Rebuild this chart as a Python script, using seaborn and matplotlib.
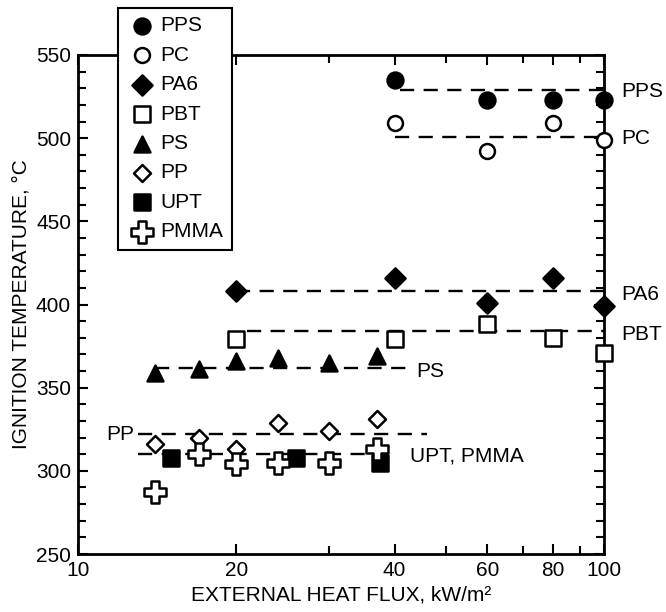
import numpy as np
import pandas as pd
import matplotlib
matplotlib.use('Agg')
import matplotlib.pyplot as plt
import matplotlib.ticker as mticker
import seaborn as sns

# data
flux_pps = [40, 60, 80, 100]
temp_pps = [535, 523, 523, 523]
flux_pc = [40, 60, 80, 100]
temp_pc = [509, 492, 509, 499]
flux_pa6 = [20, 40, 60, 80, 100]
temp_pa6 = [408, 416, 401, 416, 399]
flux_pbt = [20, 40, 60, 80, 100]
temp_pbt = [379, 379, 388, 380, 371]
flux_ps = [14, 17, 20, 24, 30, 37]
temp_ps = [359, 361, 366, 368, 365, 369]
flux_pp = [14, 17, 20, 24, 30, 37]
temp_pp = [316, 320, 313, 329, 324, 331]
flux_upt = [15, 26, 37.5]
temp_upt = [308, 308, 305]
flux_pmma = [14, 17, 20, 24, 30, 37]
temp_pmma = [287, 310, 304, 305, 305, 313]

# average ignition temperature lines (level, start flux, end flux)
avg_names = ['PPS', 'PC', 'PA6', 'PBT', 'PS', 'PP', 'UPT, PMMA']
avg_temp = [529, 501, 408, 384, 362, 322, 310]
avg_start = [41, 40, 20, 21, 14, 13, 13]
avg_end = [100, 100, 100, 100, 42, 46, 40]

right_labels = ['PPS', 'PC', 'PA6', 'PBT']
right_label_y = [528, 500, 406, 382]
inner_labels = ['PS', 'PP', 'UPT, PMMA']
inner_label_x = [44, 12.8, 42.8]
inner_label_y = [360, 322, 309]

sns.set_style('ticks')
plt.rcParams['font.family'] = ['Liberation Sans', 'DejaVu Sans']
plt.rcParams['font.size'] = 15
plt.rcParams['text.color'] = 'black'
plt.rcParams['axes.labelcolor'] = 'black'
plt.rcParams['xtick.color'] = 'black'
plt.rcParams['ytick.color'] = 'black'

fig = plt.figure(figsize=(6.66, 6.12), dpi=100)
ax = fig.add_axes([78/666, 1-554/612, 526/666, 499/612])

# dashed average lines
for t, x0, x1 in zip(avg_temp, avg_start, avg_end):
    seg = pd.DataFrame({'x': [x0, x1], 'y': [t, t]})
    sns.lineplot(data=seg, x='x', y='y', ax=ax, color='black', lw=1.7,
                 zorder=2, estimator=None)
for line in ax.lines:
    line.set_dashes([6, 4])

series = [
    ('PPS', flux_pps, temp_pps, 'o', 'black', 130),
    ('PC', flux_pc, temp_pc, 'o', 'white', 115),
    ('PA6', flux_pa6, temp_pa6, 'D', 'black', 105),
    ('PBT', flux_pbt, temp_pbt, 's', 'white', 130),
    ('PS', flux_ps, temp_ps, '^', 'black', 130),
    ('PP', flux_pp, temp_pp, 'D', 'white', 75),
    ('UPT', flux_upt, temp_upt, 's', 'black', 130),
    ('PMMA', flux_pmma, temp_pmma, 'P', 'white', 240),
]
for name, fx, ty, mk, fc, size in series:
    df = pd.DataFrame({'flux': fx, 'temp': ty})
    sns.scatterplot(data=df, x='flux', y='temp', ax=ax, marker=mk, s=size,
                    color=fc, edgecolor='black', linewidth=1.8, label=name,
                    zorder=4, clip_on=False)

ax.set_xscale('log')
ax.set_xlim(10, 100)
ax.set_ylim(250, 550)
ax.xaxis.set_major_locator(mticker.FixedLocator([10, 20, 40, 60, 80, 100]))
ax.xaxis.set_major_formatter(mticker.FixedFormatter(['10', '20', '40', '60', '80', '100']))
ax.xaxis.set_minor_locator(mticker.FixedLocator([30, 50, 70, 90]))
ax.xaxis.set_minor_formatter(mticker.NullFormatter())
ax.yaxis.set_major_locator(mticker.MultipleLocator(50))
ax.yaxis.set_minor_locator(mticker.MultipleLocator(10))
ax.tick_params(which='both', direction='in', top=True, right=True,
               labelsize=15, width=1.5, colors='black', pad=5)
ax.tick_params(which='major', length=7)
ax.tick_params(which='minor', length=6)
for sp in ax.spines.values():
    sp.set_visible(True)
    sp.set_linewidth(2)
    sp.set_color('black')

ax.set_xlabel('EXTERNAL HEAT FLUX, kW/m²', fontsize=15, labelpad=4)
ax.set_ylabel('IGNITION TEMPERATURE, °C', fontsize=15, labelpad=4)

for lab, y in zip(right_labels, right_label_y):
    ax.text(1.032, y, lab, transform=ax.get_yaxis_transform(), ha='left',
            va='center', fontsize=15)
for lab, x, y in zip(inner_labels, inner_label_x, inner_label_y):
    ax.text(x, y, lab, ha='right' if lab == 'PP' else 'left', va='center',
            fontsize=15)

leg = ax.legend(loc='upper left', bbox_to_anchor=(118/666, 1-8/612),
                bbox_transform=fig.transFigure, borderaxespad=0,
                frameon=True, fancybox=False, edgecolor='black',
                framealpha=1, fontsize=15, handletextpad=0.15,
                labelspacing=0.5, borderpad=0.4, scatterpoints=1,
                handlelength=1.5)
leg.get_frame().set_linewidth(1.5)
leg.set_zorder(10)

fig.savefig('out.png', dpi=100)
